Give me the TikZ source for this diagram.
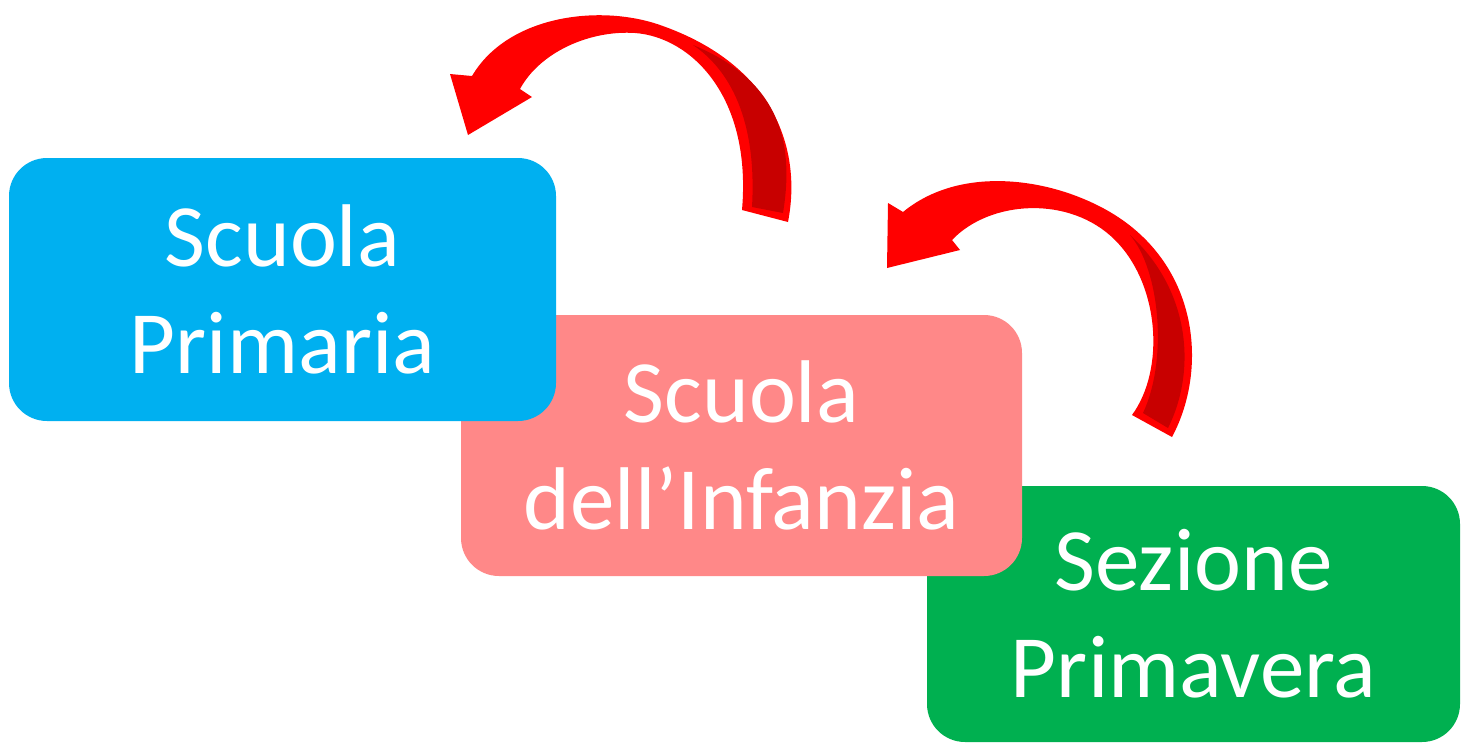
\documentclass[tikz,border=0pt]{standalone}
\usepackage{fontspec}
\setmainfont{Carlito}
\definecolor{cblue}{HTML}{00B0F0}
\definecolor{cpink}{HTML}{FF8888}
\definecolor{cgreen}{HTML}{00B050}
\definecolor{cred}{HTML}{FF0000}
\definecolor{cdark}{HTML}{C80000}
\begin{document}
\begin{tikzpicture}[x=1pt,y=-1pt,
  box/.style={rounded corners=38pt,inner sep=0pt,text=white,align=center,
    font=\fontsize{89}{107}\selectfont},
  arrowfill/.style={fill=cred,draw=none},
  arrowdark/.style={fill=cdark,draw=none}]
\useasboundingbox (0,0) rectangle (1468,745);
% boxes (green bottom, pink, blue top)
\node[box,fill=cgreen,minimum width=533pt,minimum height=256pt] (sp) at (1193.5,614) {Sezione\\Primavera};
\node[box,fill=cpink,minimum width=561pt,minimum height=261pt] (si) at (741.5,445.5) {Scuola\\dell’Infanzia};
\node[box,fill=cblue,minimum width=547pt,minimum height=263pt] (pr) at (282.5,289.5) {Scuola\\Primaria};
% arrow 1 (from infanzia to primaria)
\coordinate (a1tip) at (468,135);
\fill[arrowfill] (788,222) .. controls (802,150) and (775,65) .. (660,25)
  .. controls (600,4) and (508,15) .. (472,76)
  -- (450,74) -- (a1tip) -- (532,97) -- (520,89)
  .. controls (540,52) and (590,30) .. (635,33)
  .. controls (690,37) and (752,95) .. (742,210) -- cycle;
\fill[arrowdark] (783,213) .. controls (795,140) and (778,80) .. (693,45)
  .. controls (730,70) and (757,120) .. (752,207) -- cycle;
% arrow 2 (from primavera to infanzia)
\coordinate (a2tip) at (887,268);
\fill[arrowfill] (1172,437) .. controls (1208,370) and (1200,265) .. (1110,212)
  .. controls (1050,177) and (960,165) .. (903,212)
  -- (888,203) -- (a2tip) -- (960,250) -- (952,240)
  .. controls (990,200) and (1070,195) .. (1115,240)
  .. controls (1160,285) and (1165,370) .. (1132,415) -- cycle;
\fill[arrowdark] (1168,428) .. controls (1197,370) and (1190,290) .. (1130,235)
  .. controls (1160,270) and (1168,360) .. (1143,413) -- cycle;
\end{tikzpicture}
\end{document}
